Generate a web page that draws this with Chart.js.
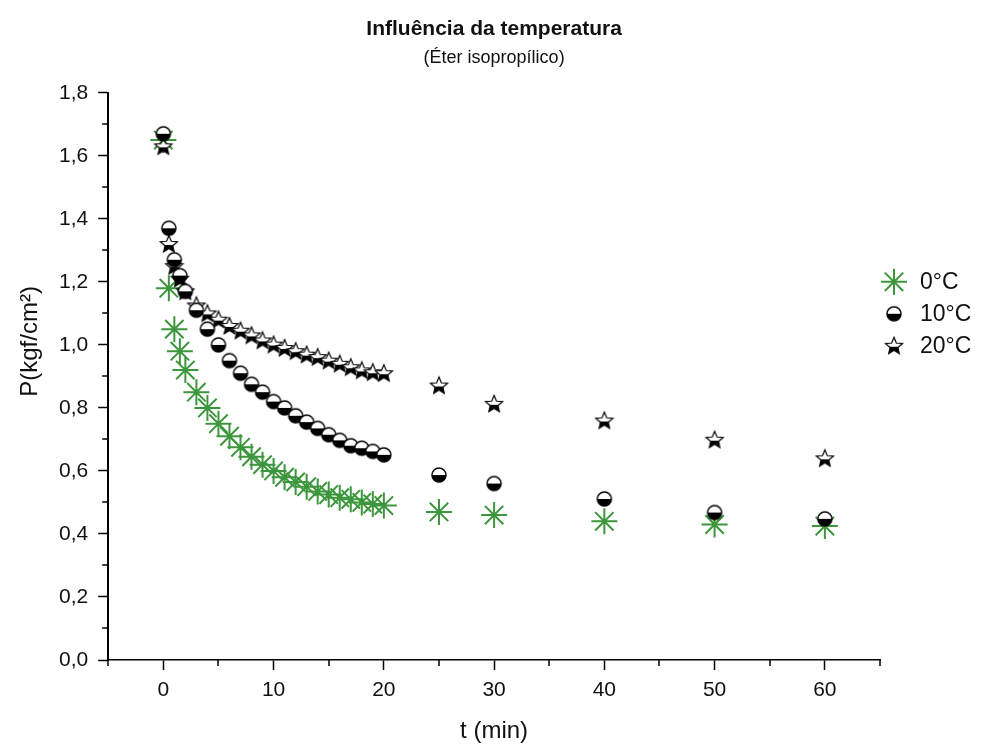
<!DOCTYPE html>
<html lang="pt">
<head>
<meta charset="utf-8">
<title>Influência da temperatura</title>
<script src="https://cdn.jsdelivr.net/npm/chart.js@4.4.1/dist/chart.umd.min.js"></script>
<style>
  html, body { margin: 0; padding: 0; background: #fff; }
  #wrap { position: relative; width: 994px; height: 751px; }
</style>
</head>
<body>
<div id="wrap"><canvas id="chart"></canvas></div>
<script>
// dados
const tempos = [0, 0.5, 1, 1.5, 2, 3, 4, 5, 6, 7, 8, 9, 10, 11, 12, 13, 14, 15, 16, 17, 18, 19, 20, 25, 30, 40, 50, 60];
const p0C  = [1.65, 1.18, 1.05, 0.98, 0.92, 0.85, 0.80, 0.75, 0.71, 0.675, 0.645, 0.62, 0.60, 0.58, 0.565, 0.55, 0.535, 0.525, 0.515, 0.51, 0.50, 0.495, 0.49, 0.47, 0.46, 0.44, 0.43, 0.425];
const p10C = [1.67, 1.37, 1.27, 1.22, 1.17, 1.11, 1.05, 1.00, 0.95, 0.91, 0.875, 0.85, 0.82, 0.80, 0.775, 0.755, 0.735, 0.715, 0.697, 0.68, 0.672, 0.662, 0.651, 0.587, 0.56, 0.511, 0.468, 0.448];
const p20C = [1.63, 1.32, 1.25, 1.21, 1.17, 1.125, 1.10, 1.08, 1.06, 1.045, 1.03, 1.014, 1.001, 0.99, 0.98, 0.969, 0.961, 0.95, 0.94, 0.929, 0.919, 0.913, 0.91, 0.871, 0.813, 0.76, 0.699, 0.64];
const legendas = ['0°C', '10°C', '20°C'];
const xTicks = [0, 10, 20, 30, 40, 50, 60];
const xMinor = [-5, 5, 15, 25, 35, 45, 55, 65];
const yMinor = [0.1, 0.3, 0.5, 0.7, 0.9, 1.1, 1.3, 1.5, 1.7];

const fonte = "'Liberation Sans', Arial, Helvetica, sans-serif";

// marcador: círculo meio cheio (metade de baixo preta)
function meiaBola(r) {
    const s = Math.ceil(r * 2 + 4);
    const c = document.createElement('canvas');
    c.width = s; c.height = s;
    const g = c.getContext('2d');
    const m = s / 2;
    g.beginPath(); g.arc(m, m, r, 0, Math.PI * 2); g.fillStyle = '#fff'; g.fill();
    g.beginPath(); g.arc(m, m, r, 0, Math.PI); g.closePath(); g.fillStyle = '#000'; g.fill();
    g.beginPath(); g.arc(m, m, r, 0, Math.PI * 2); g.lineWidth = 1.5; g.strokeStyle = '#000'; g.stroke();
    return c;
}

// marcador: estrela de 5 pontas, parte de cima branca
function estrela(R) {
    const s = Math.ceil(R * 2 + 4);
    const c = document.createElement('canvas');
    c.width = s; c.height = s;
    const g = c.getContext('2d');
    const m = s / 2 + 0.5;
    g.beginPath();
    for (let i = 0; i < 10; i++) {
        const a = -Math.PI / 2 + i * Math.PI / 5;
        const rr = i % 2 ? R * 0.45 : R;
        const px = s / 2 + rr * Math.cos(a), py = m + rr * Math.sin(a);
        if (i === 0) g.moveTo(px, py); else g.lineTo(px, py);
    }
    g.closePath();
    g.fillStyle = '#fff'; g.fill();
    g.save(); g.clip();
    g.fillStyle = '#000';
    g.fillRect(0, m + R * 0.05, s, s);
    g.restore();
    g.lineWidth = 1.2; g.strokeStyle = '#000'; g.stroke();
    return c;
}

const bola = meiaBola(7);
const estr = estrela(9);

const pontos = (ys) => tempos.map((t, i) => ({ x: t, y: ys[i] }));

// tiques menores, título do eixo y e legenda lateral
const extras = {
    id: 'extras',
    afterDraw(chart) {
        const { ctx, chartArea } = chart;
        const xs = chart.scales.x, ys = chart.scales.y;
        ctx.save();
        ctx.strokeStyle = '#000';
        ctx.lineWidth = 1.5;
        ctx.beginPath();
        xMinor.forEach(v => {
            const px = Math.round(xs.getPixelForValue(v));
            ctx.moveTo(px, chartArea.bottom);
            ctx.lineTo(px, chartArea.bottom + 6);
        });
        yMinor.forEach(v => {
            const py = Math.round(ys.getPixelForValue(v));
            ctx.moveTo(chartArea.left - 6, py);
            ctx.lineTo(chartArea.left, py);
        });
        ctx.stroke();

        // título do eixo y
        ctx.save();
        ctx.translate(30, (chartArea.top + chartArea.bottom) / 2 - 35);
        ctx.rotate(-Math.PI / 2);
        ctx.fillStyle = '#111';
        ctx.font = '24px ' + fonte;
        ctx.textAlign = 'center';
        ctx.textBaseline = 'middle';
        ctx.fillText('P(kgf/cm²)', 0, 0);
        ctx.restore();

        // legenda
        const x0 = chartArea.right + 14;
        let y = chartArea.top + 189;
        chart.data.datasets.forEach((ds, i) => {
            ctx.save();
            ctx.strokeStyle = ds.borderColor;
            ctx.fillStyle = ds.backgroundColor;
            ctx.lineWidth = ds.borderWidth;
            Chart.helpers.drawPoint(ctx, {
                pointStyle: ds.pointStyle, radius: ds.pointRadius,
                borderWidth: ds.borderWidth, rotation: 0
            }, x0, y);
            ctx.restore();
            ctx.fillStyle = '#111';
            ctx.font = '23px ' + fonte;
            ctx.textAlign = 'left';
            ctx.textBaseline = 'middle';
            ctx.fillText(legendas[i], x0 + 26, y + 1);
            y += 32;
        });
        ctx.restore();
    }
};

const config = {
    type: 'scatter',
    data: {
        datasets: [
            {
                label: legendas[0],
                data: pontos(p0C),
                pointStyle: 'star',
                pointRadius: 13,
                borderWidth: 2,
                borderColor: 'rgb(60,150,60)',
                backgroundColor: 'rgb(60,150,60)',
                order: 2
            },
            {
                label: legendas[1],
                data: pontos(p10C),
                pointStyle: bola,
                pointRadius: 7,
                borderWidth: 0,
                borderColor: '#000',
                backgroundColor: '#000',
                order: 0
            },
            {
                label: legendas[2],
                data: pontos(p20C),
                pointStyle: estr,
                pointRadius: 8,
                borderWidth: 0,
                borderColor: '#000',
                backgroundColor: '#000',
                order: 1
            }
        ]
    },
    options: {
        responsive: true,
        maintainAspectRatio: false,
        animation: false,
        layout: {
            padding: { left: 49, right: 114, top: 0, bottom: 5 }
        },
        plugins: {
            legend: { display: false },
            tooltip: { enabled: false },
            title: {
                display: true,
                fullSize: false,
                text: 'Influência da temperatura',
                color: '#111',
                font: { family: fonte, size: 21, weight: 'bold' },
                padding: { top: 17, bottom: 2 }
            },
            subtitle: {
                display: true,
                fullSize: false,
                text: '(Éter isopropílico)',
                color: '#111',
                font: { family: fonte, size: 18 },
                padding: { top: 3, bottom: 24 }
            }
        },
        scales: {
            x: {
                type: 'linear',
                min: -5,
                max: 65,
                afterBuildTicks: (scale) => {
                    scale.ticks = xTicks.map(v => ({ value: v }));
                },
                grid: {
                    drawOnChartArea: false,
                    tickLength: 10,
                    tickWidth: 1.5,
                    tickColor: '#000'
                },
                border: { color: '#000', width: 1.5 },
                ticks: {
                    color: '#111',
                    padding: 8,
                    maxRotation: 0,
                    font: { family: fonte, size: 21 }
                },
                title: {
                    display: true,
                    text: 't (min)',
                    color: '#111',
                    font: { family: fonte, size: 24 },
                    padding: { top: 6, bottom: 0 }
                }
            },
            y: {
                type: 'linear',
                min: 0,
                max: 1.8,
                grid: {
                    drawOnChartArea: false,
                    tickLength: 10,
                    tickWidth: 1.5,
                    tickColor: '#000'
                },
                border: { color: '#000', width: 2 },
                ticks: {
                    stepSize: 0.2,
                    color: '#111',
                    padding: 10,
                    font: { family: fonte, size: 21 },
                    callback: (v) => v.toFixed(1).replace('.', ',')
                }
            }
        }
    },
    plugins: [extras]
};

const myChart = new Chart(document.getElementById('chart'), config);
</script>
</body>
</html>
